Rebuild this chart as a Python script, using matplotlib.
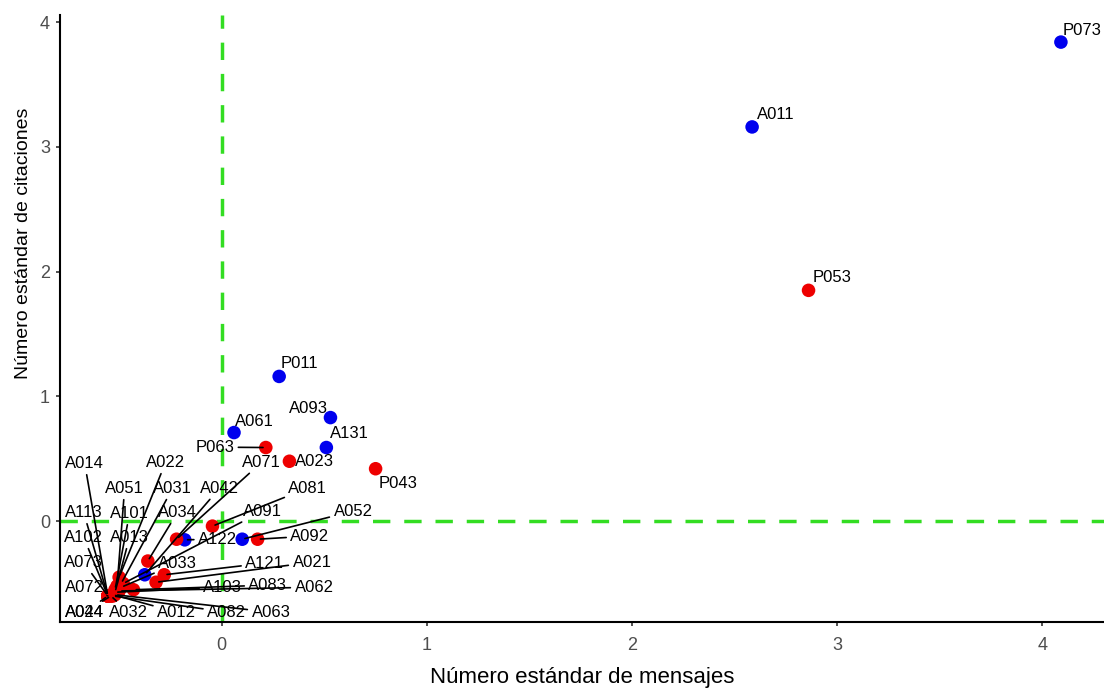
import matplotlib.pyplot as plt

# ---------------------------------------------------------
# datos (valores estandarizados)
# ---------------------------------------------------------
ids = ['P073', 'A011', 'P053', 'P011', 'A093', 'A061', 'A131', 'P063', 'A023', 'P043',
       'A092', 'A052', 'A122', 'A071', 'A081', 'A034', 'A042', 'A121', 'A021', 'A022',
       'A031', 'A051', 'A014', 'A113', 'A101', 'A013', 'A102', 'A073', 'A072', 'A024',
       'A044', 'A032', 'A012', 'A082', 'A063', 'A062', 'A083', 'A103', 'A033', 'A091']

mensajes = [4.09, 2.585, 2.86, 0.28, 0.53, 0.06, 0.51, 0.215, 0.33, 0.75,
            0.175, 0.10, -0.18, -0.22, -0.045, -0.36, -0.375, -0.28, -0.32, -0.50,
            -0.49, -0.51, -0.555, -0.555, -0.52, -0.52, -0.555, -0.555, -0.555, -0.555,
            -0.54, -0.54, -0.53, -0.53, -0.52, -0.50, -0.43, -0.52, -0.49, -0.48]

citaciones = [3.84, 3.16, 1.85, 1.16, 0.83, 0.71, 0.59, 0.59, 0.48, 0.42,
              -0.145, -0.145, -0.15, -0.145, -0.04, -0.32, -0.43, -0.43, -0.49, -0.45,
              -0.50, -0.52, -0.60, -0.60, -0.55, -0.57, -0.60, -0.60, -0.60, -0.60,
              -0.60, -0.60, -0.59, -0.60, -0.59, -0.56, -0.55, -0.57, -0.53, -0.50]

grupo = ['P', 'P', 'R', 'P', 'P', 'P', 'P', 'R', 'R', 'R',
         'R', 'P', 'P', 'R', 'R', 'R', 'P', 'R', 'R', 'R',
         'R', 'R', 'R', 'R', 'R', 'R', 'R', 'R', 'R', 'R',
         'R', 'R', 'R', 'R', 'R', 'R', 'R', 'R', 'R', 'R']

# posiciones de etiquetas (tipo ggrepel)
etiqueta_x = [4.195, 2.70, 2.976, 0.38, 0.424, 0.16, 0.62, -0.034, 0.45, 0.86,
              0.43, 0.64, -0.02, 0.195, 0.42, -0.215, -0.01, 0.21, 0.44, -0.273,
              -0.239, -0.473, -0.668, -0.673, -0.449, -0.449, -0.673, -0.673, -0.668, -0.668,
              -0.668, -0.454, -0.22, 0.024, 0.24, 0.45, 0.225, 0.005, -0.215, 0.20]
etiqueta_y = [3.93, 3.26, 1.95, 1.26, 0.906, 0.80, 0.70, 0.593, 0.48, 0.305,
              -0.12, 0.08, -0.144, 0.473, 0.265, 0.072, 0.265, -0.337, -0.33, 0.473,
              0.265, 0.265, 0.465, 0.072, 0.064, -0.128, -0.128, -0.33, -0.53, -0.73,
              -0.73, -0.73, -0.73, -0.73, -0.73, -0.53, -0.513, -0.53, -0.337, 0.08]

# etiquetas sin segmento (cerca de su punto)
sin_linea = ['P073', 'A011', 'P053', 'P011', 'A093', 'A061', 'A131', 'A023', 'P043']

colores = {'P': '#0000ee', 'R': '#ee0000'}

plt.rcParams['font.family'] = ['Liberation Sans', 'DejaVu Sans']

fig = plt.figure(figsize=(11.04, 6.89), dpi=100)
ax = fig.add_axes([0.054, 0.097, 0.946, 0.881])

# lineas de referencia
ax.axvline(0, color='#33dd22', linestyle=(0, (5, 4)), linewidth=2.5, zorder=1)
ax.axhline(0, color='#33dd22', linestyle=(0, (5, 4)), linewidth=2.5, zorder=1)

for x, y, g in zip(mensajes, citaciones, grupo):
    ax.scatter(x, y, s=95, color=colores[g], edgecolors='none', zorder=3)

for lab, x, y, lx, ly in zip(ids, mensajes, citaciones, etiqueta_x, etiqueta_y):
    if lab in sin_linea:
        ax.text(lx, ly, lab, fontsize=12, ha='center', va='center', color='black', zorder=4)
    else:
        ax.annotate(lab, xy=(x, y), xytext=(lx, ly), fontsize=12, ha='center', va='center',
                    color='black', zorder=4,
                    arrowprops=dict(arrowstyle='-', color='black', lw=1.2,
                                    shrinkA=1, shrinkB=2))

ax.set_xlim(-0.79, 4.30)
ax.set_ylim(-0.81, 4.056)
ax.set_xticks([0, 1, 2, 3, 4])
ax.set_yticks([0, 1, 2, 3, 4])
ax.tick_params(labelcolor='#4d4d4d', labelsize=13, length=3, width=1.2, color='#333333')
ax.tick_params(axis='x', pad=8)
ax.tick_params(axis='y', pad=4)
for s in ['top', 'right']:
    ax.spines[s].set_visible(False)
for s in ['left', 'bottom']:
    ax.spines[s].set_linewidth(1.5)

ax.set_xlabel('Número estándar de mensajes', fontsize=16, labelpad=9)
ax.set_ylabel('Número estándar de citaciones', fontsize=14)
ax.yaxis.set_label_coords(-0.026, 0.624)

fig.savefig('out.png', dpi=100)
